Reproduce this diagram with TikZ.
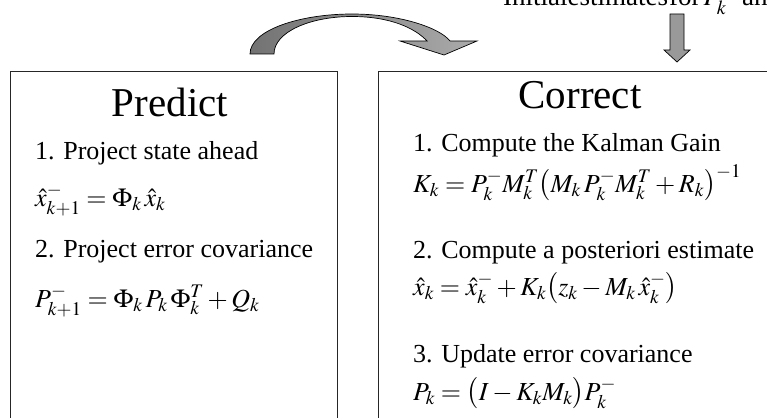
\documentclass[tikz,border=0pt]{standalone}
\usepackage{mathptmx}
\usepackage{fontspec}
\setmainfont{Liberation Serif}
\begin{document}
\begin{tikzpicture}[x=1pt,y=-1pt,
  panel/.style={draw=black!85,line width=0.9pt,fill=white,anchor=north west,inner sep=0pt},
  title/.style={anchor=base,font=\fontsize{41}{48}\selectfont,inner sep=0pt},
  body/.style={anchor=base west,font=\fontsize{26}{30}\selectfont,inner sep=0pt},
  toptext/.style={anchor=base west,font=\fontsize{27}{32}\selectfont,inner sep=0pt},
  shapearrow/.style={draw=black,line width=0.7pt,line join=miter}]
\useasboundingbox (0,0) rectangle (767,417);
\clip (0,0) rectangle (767,417);
% panels
\node[panel,minimum width=327pt,minimum height=370pt] (predict) at (10,71) {};
\node[panel,minimum width=420pt,minimum height=370pt] (correct) at (378,71) {};
% titles
\node[title] (tp) at (170,117) {Predict};
\node[title] (tc) at (580,108) {Correct};
% left panel
\node[body] (l1) at (35,159) {1. Project state ahead};
\node[body] (l2) at (35,206) {$\hat{x}_{k+1}^{-} = \Phi_k\, \hat{x}_k$};
\node[body] (l3) at (35,257) {2. Project error covariance};
\node[body] (l4) at (35,307) {$P_{k+1}^{-} = \Phi_k\, P_k\, \Phi_k^T + Q_k$};
% right panel
\node[body] (r1) at (413,151) {1. Compute the Kalman Gain};
\node[body] (r2) at (413,192) {$K_k = P_k^- M_k^T \bigl(M_k\, P_k^- M_k^T + R_k\bigr)^{-1}$};
\node[body] (r3) at (413,258) {2. Compute a posteriori estimate};
\node[body] (r4) at (413,295) {$\hat{x}_k = \hat{x}_k^- + K_k\bigl(z_k - M_k\,\hat{x}_k^-\bigr)$};
\node[body] (r5) at (413,362) {3. Update error covariance};
\node[body] (r6) at (413,400) {$P_k = \bigl(I - K_k M_k\bigr) P_k^-$};
% top text (cut by the frame)
\node[toptext] (init) at (503,6) {Initialestimates\hspace{1pt}for\hspace{3pt}$P_k^-$\hspace{6pt}and};
% curved arrow
\draw[shapearrow,left color=black!55,right color=black!33]
  (250,54) .. controls (250,30) and (300,14) .. (352,14)
  .. controls (400,14) and (440,28) .. (450,41)
  -- (477,41) -- (444,55) -- (400,41) -- (427,41)
  .. controls (415,28) and (390,16.5) .. (352,16.5)
  .. controls (310,16.5) and (274,32) .. (274,54) -- cycle;
% down arrow
\draw[shapearrow,fill=black!40]
  (670,14) -- (684,14) -- (684,50) -- (690,50) -- (677,62) -- (664,50) -- (670,50) -- cycle;
\end{tikzpicture}
\end{document}
